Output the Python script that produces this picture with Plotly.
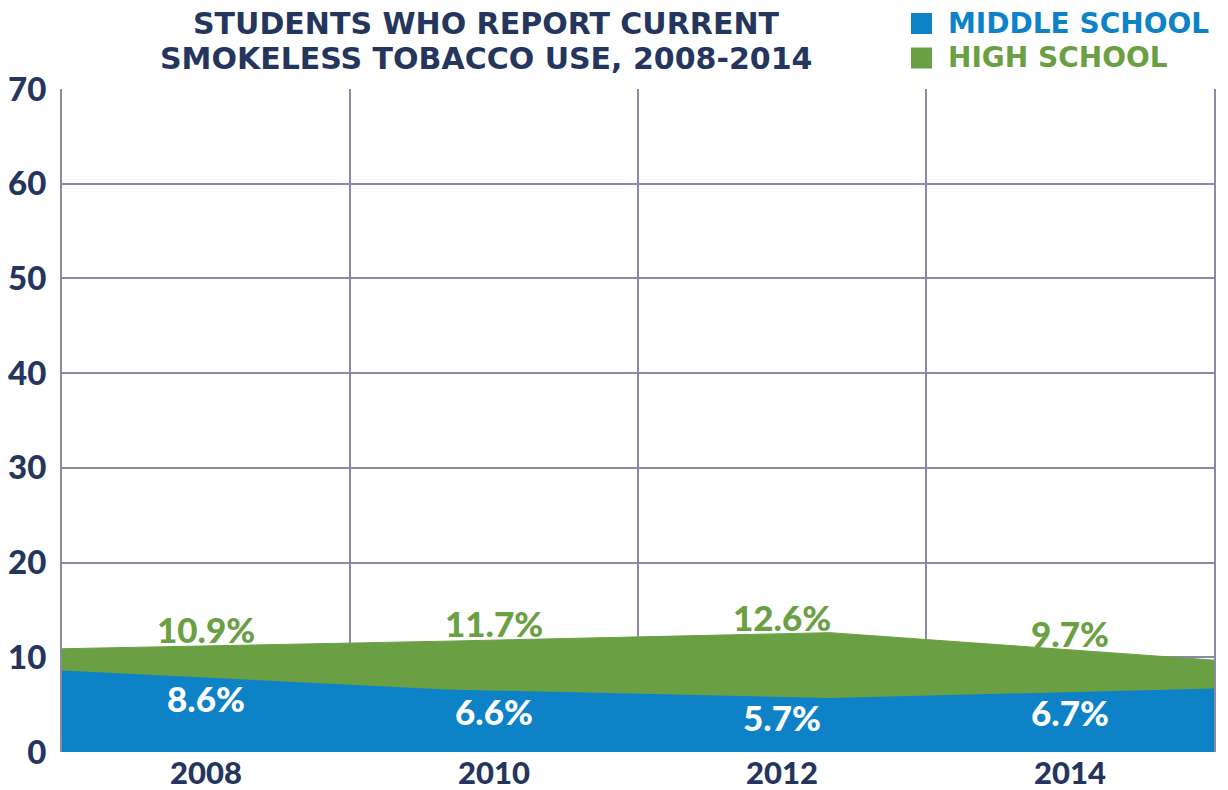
import numpy as np
import plotly.graph_objects as go

# Survey years and current smokeless tobacco use (%)
years = [2008, 2010, 2012, 2014]
year_labels = ["2008", "2010", "2012", "2014"]
middle_school = [8.6, 6.6, 5.7, 6.7]
high_school = [10.9, 11.7, 12.6, 9.7]

y_ticks = [0, 10, 20, 30, 40, 50, 60, 70]

NAVY = "#24355e"
BLUE = "#0d82c7"
GREEN = "#6aa043"
GRID = "#8c89a6"
FONT = "Lato"
HEAD_FONT = "DejaVu Sans"

W, H = 1228, 790
M = dict(l=62, r=14, t=89, b=38)
PW = W - M["l"] - M["r"]
PH = H - M["t"] - M["b"]


def px_x(px):
    return (px - M["l"]) / PW


def px_y(py):
    return (H - M["b"] - py) / PH


fig = go.Figure()

# Overlapping (not stacked) areas: high school behind, middle school in front
fig.add_trace(go.Scatter(
    x=years, y=high_school, mode="lines", fill="tozeroy",
    line=dict(width=1, color=GREEN), fillcolor=GREEN,
    hoverinfo="skip", showlegend=False, xaxis="x", yaxis="y",
))
fig.add_trace(go.Scatter(
    x=years, y=middle_school, mode="lines", fill="tozeroy",
    line=dict(width=0, color=BLUE), fillcolor=BLUE,
    hoverinfo="skip", showlegend=False, xaxis="x", yaxis="y",
))

# Value labels sit at the centre of each year band, just above / below the area edge
band_pos = np.arange(len(years))
band_year = years[0] + (band_pos + 0.5) * (years[-1] - years[0]) / len(years)
hs_edge = np.interp(band_year, years, high_school)
ms_edge = np.interp(band_year, years, middle_school)

annotations = []
for i in range(len(years)):
    annotations.append(dict(
        x=band_pos[i], y=hs_edge[i], xref="x2", yref="y",
        text=f"{high_school[i]:.1f}%", showarrow=False,
        yanchor="middle", yshift=17,
        font=dict(family=FONT, size=35, color=GREEN, weight=900),
    ))
    annotations.append(dict(
        x=band_pos[i], y=ms_edge[i], xref="x2", yref="y",
        text=f"{middle_school[i]:.1f}%", showarrow=False,
        yanchor="middle", yshift=-20,
        font=dict(family=FONT, size=35, color="white", weight=900),
    ))

# Title, two lines
title_lines = ["STUDENTS WHO REPORT CURRENT", "SMOKELESS TOBACCO USE, 2008-2014"]
for line, cy in zip(title_lines, [24, 58.5]):
    annotations.append(dict(
        x=px_x(486), y=px_y(cy), xref="paper", yref="paper",
        text=line, showarrow=False, xanchor="center", yanchor="middle",
        font=dict(family=HEAD_FONT, size=30, color=NAVY, weight="bold"),
    ))

# Legend: coloured squares with labels
shapes = []
legend_items = [("MIDDLE SCHOOL", BLUE, 23.5), ("HIGH SCHOOL", GREEN, 58)]
for name, color, cy in legend_items:
    shapes.append(dict(
        type="rect", xref="paper", yref="paper",
        x0=px_x(911), x1=px_x(932), y0=px_y(cy + 10.5), y1=px_y(cy - 10.5),
        fillcolor=color, line=dict(width=0),
    ))
    annotations.append(dict(
        x=px_x(946), y=px_y(cy), xref="paper", yref="paper",
        text=name, showarrow=False, xanchor="left", yanchor="middle",
        font=dict(family=HEAD_FONT, size=28, color=color, weight="bold"),
    ))

fig.update_layout(
    width=W, height=H, margin=M,
    paper_bgcolor="white", plot_bgcolor="white",
    showlegend=False,
    xaxis=dict(
        range=[years[0], years[-1]], visible=False, fixedrange=True,
        automargin=False,
    ),
    xaxis2=dict(
        overlaying="x", anchor="y", side="bottom",
        range=[-0.5, len(years) - 0.5], automargin=False,
        tickmode="array", tickvals=list(band_pos), ticktext=year_labels,
        ticks="", showgrid=False, zeroline=False, showline=False,
        ticklabelstandoff=0,
        tickfont=dict(family=FONT, size=31, color=NAVY, weight=900),
        minor=dict(
            tickmode="array",
            tickvals=list(np.arange(-0.5, len(years), 1.0)),
            showgrid=True, gridcolor=GRID, gridwidth=2, ticks="",
        ),
    ),
    yaxis=dict(
        range=[0, 70], tickmode="array", tickvals=y_ticks,
        showgrid=True, gridcolor=GRID, gridwidth=2, automargin=False,
        zeroline=False, showline=True, mirror=True,
        linecolor=GRID, linewidth=2, ticks="",
        ticklabelstandoff=7,
        tickfont=dict(family=FONT, size=33, color=NAVY, weight=900),
    ),
    annotations=annotations,
    shapes=shapes,
)

fig.write_html("out.html")
